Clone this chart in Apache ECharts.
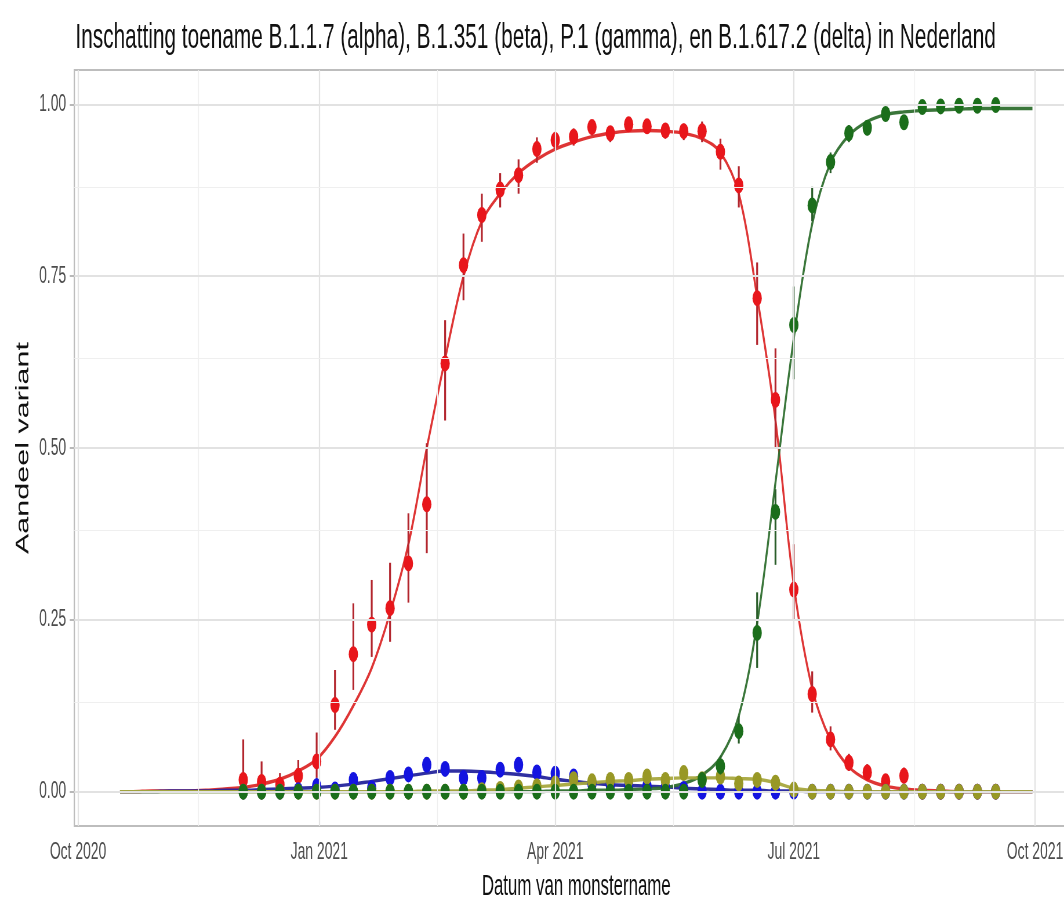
<!DOCTYPE html>
<html>
<head>
<meta charset="utf-8">
<script src="https://cdn.jsdelivr.net/npm/echarts@6/dist/echarts.min.js"></script>
<style>
html,body{margin:0;padding:0;background:#fff;overflow:hidden;}
#wrap{width:1064px;height:906px;overflow:hidden;position:relative;background:#fff;}
#chart{width:1862px;height:906px;transform:scaleX(0.57984);transform-origin:0 0;}
</style>
</head>
<body>
<div id="wrap"><div id="chart"></div></div>
<script>
// ---- data ----
const titleText = 'Inschatting toename B.1.1.7 (alpha), B.1.351 (beta), P.1 (gamma), en B.1.617.2 (delta) in Nederland';
const xTitle = 'Datum van monstername';
const yTitle = 'Aandeel variant';

const xTickDates = ['2020-10-01','2021-01-01','2021-04-01','2021-07-01','2021-10-01'];
const xTickLabels = ['Oct 2020','Jan 2021','Apr 2021','Jul 2021','Oct 2021'];
const xMinorDates = ['2020-11-16','2021-02-15','2021-05-16','2021-08-16'];
const yTicks = [0, 0.25, 0.5, 0.75, 1];
const yMinor = [0.125, 0.375, 0.625, 0.875];

const pointDates = ['2020-12-03','2020-12-10','2020-12-17','2020-12-24','2020-12-31',
 '2021-01-07','2021-01-14','2021-01-21','2021-01-28','2021-02-04','2021-02-11','2021-02-18','2021-02-25',
 '2021-03-04','2021-03-11','2021-03-18','2021-03-25','2021-04-01','2021-04-08','2021-04-15','2021-04-22','2021-04-29',
 '2021-05-06','2021-05-13','2021-05-20','2021-05-27','2021-06-03','2021-06-10','2021-06-17','2021-06-24',
 '2021-07-01','2021-07-08','2021-07-15','2021-07-22','2021-07-29','2021-08-05','2021-08-12','2021-08-19','2021-08-26',
 '2021-09-02','2021-09-09','2021-09-16'];
const fitLeadDates = ['2020-10-17','2020-10-22','2020-10-29','2020-11-05','2020-11-12','2020-11-19','2020-11-26'];
const fitTailDates = ['2021-09-23','2021-09-30'];

// observed proportions
const alphaPts = [0.017,0.014,0.010,0.023,0.044,0.126,0.200,0.243,0.267,0.332,0.418,0.623,0.766,0.839,0.876,0.897,0.935,0.948,0.953,0.967,0.958,0.971,0.968,0.962,0.961,0.961,0.931,0.882,0.718,0.570,0.294,0.142,0.076,0.042,0.028,0.015,0.023,0,0,0,0,0];
const alphaLo  = [0,0,0,0.005,0.02,0.09,0.148,0.196,0.218,0.275,0.347,0.54,0.715,0.80,0.85,0.87,0.915,0.935,0.94,0.955,0.945,0.96,0.958,0.95,0.948,0.945,0.905,0.85,0.65,0.50,0.25,0.115,0.06,0.03,0.018,0.008,0.012,0,0,0,0,0];
const alphaHi  = [0.076,0.044,0.027,0.046,0.086,0.177,0.274,0.308,0.333,0.405,0.507,0.686,0.812,0.87,0.90,0.92,0.952,0.96,0.965,0.977,0.968,0.98,0.977,0.972,0.972,0.975,0.95,0.91,0.77,0.645,0.36,0.175,0.095,0.055,0.04,0.025,0.035,0,0,0,0,0];

const betaPts = [0,0,0,0.002,0.008,0.003,0.017,0.005,0.020,0.025,0.039,0.033,0.020,0.020,0.032,0.039,0.028,0.026,0.022,0.012,0.010,0.009,0.008,0.006,0.004,0,0,0,0,0,0,0,0,0,0,0,0,0,0,0,0,0];
const betaLo  = [0,0,0,0,0.002,0,0.010,0,0.013,0.018,0.030,0.025,0.014,0.014,0.025,0.031,0.021,0.019,0.015,0.007,0.005,0.004,0.003,0.002,0.001,0,0,0,0,0,0,0,0,0,0,0,0,0,0,0,0,0];
const betaHi  = [0.005,0.005,0.006,0.008,0.020,0.010,0.027,0.012,0.028,0.033,0.048,0.041,0.027,0.027,0.040,0.047,0.035,0.033,0.029,0.018,0.015,0.014,0.013,0.011,0.008,0,0,0,0,0,0,0,0,0,0,0,0,0,0,0,0,0];

const gammaPts = [0,0,0,0,0,0,0,0,0,0,0,0,0,0.002,0.004,0.006,0.008,0.012,0.018,0.015,0.017,0.017,0.022,0.017,0.027,0.018,0.022,0.012,0.017,0.013,0.003,0,0,0,0,0,0,0,0,0,0,0];
const gammaLo  = [0,0,0,0,0,0,0,0,0,0,0,0,0,0,0,0.001,0.003,0.006,0.012,0.010,0.012,0.012,0.016,0.012,0.020,0.012,0.016,0.007,0.011,0.008,0,0,0,0,0,0,0,0,0,0,0,0];
const gammaHi  = [0,0,0,0,0,0,0,0,0,0,0,0,0,0.005,0.008,0.011,0.013,0.018,0.024,0.021,0.023,0.023,0.028,0.023,0.034,0.025,0.029,0.018,0.024,0.019,0.006,0,0,0,0,0,0,0,0,0,0,0];

const deltaPts = [0,0,0,0,0,0,0,0,0,0,0,0,0,0,0,0,0,0,0,0,0,0,0,0,0,0.017,0.037,0.088,0.231,0.407,0.679,0.853,0.916,0.958,0.966,0.986,0.974,0.996,0.997,0.998,0.998,0.999];
const deltaLo  = [0,0,0,0,0,0,0,0,0,0,0,0,0,0,0,0,0,0,0,0,0,0,0,0,0,0.008,0.025,0.07,0.18,0.33,0.60,0.83,0.90,0.945,0.955,0.978,0.963,0.99,0.992,0.994,0.994,0.995];
const deltaHi  = [0,0,0,0,0,0,0,0,0,0,0,0,0,0,0,0,0,0,0,0,0,0,0,0,0,0.028,0.052,0.11,0.29,0.44,0.735,0.88,0.93,0.97,0.975,0.992,0.983,1.0,1.0,1.0,1.0,1.0];

// fitted curves (values at fitLeadDates + pointDates + fitTailDates)
const alphaFit = [0,0,0.001,0.001,0.001,0.002,0.004,
 0.006,0.011,0.018,0.03,0.047,0.08,0.125,0.18,0.26,0.36,0.5,0.63,0.75,0.83,0.87,0.9,0.92,0.935,0.945,0.953,0.958,0.961,0.962,0.961,0.958,0.95,0.93,0.87,0.72,0.54,0.3,0.15,0.075,0.036,0.017,0.008,0.004,0.002,0.001,0,0,0,
 0,0];
const betaFit = [0,0,0,0.001,0.001,0.001,0.002,
 0.002,0.003,0.004,0.005,0.006,0.008,0.011,0.015,0.019,0.023,0.027,0.03,0.03,0.029,0.027,0.025,0.022,0.018,0.015,0.012,0.01,0.009,0.008,0.007,0.005,0.004,0.003,0.002,0.002,0.001,0.001,0,0,0,0,0,0,0,0,0,0,0,
 0,0];
const gammaFit = [0,0,0,0,0,0,0,
 0,0,0,0,0,0,0,0,0,0,0.001,0.001,0.001,0.002,0.003,0.005,0.007,0.009,0.011,0.013,0.015,0.016,0.018,0.019,0.02,0.02,0.02,0.019,0.018,0.013,0.005,0.002,0.001,0,0,0,0,0,0,0,0,0,
 0,0];
const deltaFit = [0,0,0,0,0,0,0,
 0,0,0,0,0,0,0,0,0,0,0,0,0,0,0,0,0,0.001,0.001,0.002,0.002,0.003,0.004,0.006,0.012,0.024,0.05,0.11,0.245,0.45,0.66,0.826,0.915,0.955,0.975,0.985,0.989,0.991,0.992,0.993,0.994,0.994,
 0.994,0.994];

// ---- build ----
const ts = d => new Date(d + 'T00:00:00Z').getTime();
const fitDates = fitLeadDates.concat(pointDates, fitTailDates);
const FONT = "'Liberation Sans', Arial, Helvetica, sans-serif";
const xMin = Date.UTC(2020, 8, 29, 14);
const xMax = Date.UTC(2021, 9, 17, 10);
const majorTs = xTickDates.map(ts);
const labelMap = {};
majorTs.forEach((t, i) => labelMap[t] = xTickLabels[i]);

const variants = [
  {name:'alpha', pts:alphaPts, lo:alphaLo, hi:alphaHi, fit:alphaFit, point:'#e8161b', line:'#dc2a2a', bar:'#b3262e'},
  {name:'beta',  pts:betaPts,  lo:betaLo,  hi:betaHi,  fit:betaFit,  point:'#1414e0', line:'#24249c', bar:'#2525a8'},
  {name:'gamma', pts:gammaPts, lo:gammaLo, hi:gammaHi, fit:gammaFit, point:'#989826', line:'#a8a83e', bar:'#80801f'},
  {name:'delta', pts:deltaPts, lo:deltaLo, hi:deltaHi, fit:deltaFit, point:'#1b6e1b', line:'#2f6f2f', bar:'#2a5e2a'}
];

const gridLines = [];
majorTs.forEach(t => gridLines.push({xAxis:t, lineStyle:{color:'#e2e2e2', width:2.2, type:'solid'}}));
xMinorDates.map(ts).forEach(t => gridLines.push({xAxis:t, lineStyle:{color:'#efefef', width:1.2, type:'solid'}}));
yTicks.forEach(v => gridLines.push({yAxis:v, lineStyle:{color:'#e2e2e2', width:2.2, type:'solid'}}));
yMinor.forEach(v => gridLines.push({yAxis:v, lineStyle:{color:'#efefef', width:1.2, type:'solid'}}));

const series = [{
  type:'line', name:'grid', data:[[xMin, -1]], showSymbol:false, silent:true, z:1,
  lineStyle:{opacity:0},
  markLine:{silent:true, symbol:['none','none'], label:{show:false}, animation:false, data:gridLines}
}];

// fitted lines (drawn under the points)
[variants[0], variants[1], variants[3], variants[2]].forEach(v => {
  series.push({
    type:'line', name:v.name + ' fit', z:2, showSymbol:false, smooth:0.35, silent:true,
    data: fitDates.map((d, i) => [ts(d), v.fit[i]]),
    lineStyle:{color:v.line, width:3.4, opacity:0.95}
  });
});

// error bars + points: alpha, beta, gamma, delta
const order = [variants[0], variants[1], variants[2], variants[3]];
order.forEach((v, k) => {
  series.push({
    type:'custom', name:v.name + ' ci', z:3 + k*0.1, silent:true,
    data: pointDates.map((d, i) => [ts(d), v.lo[i], v.hi[i]]).filter(r => r[2] - r[1] > 0),
    encode:{x:0, y:[1,2]},
    renderItem:(params, api) => {
      const x = api.value(0);
      const p1 = api.coord([x, api.value(1)]);
      const p2 = api.coord([x, api.value(2)]);
      return {type:'line', shape:{x1:p1[0], y1:p1[1], x2:p2[0], y2:p2[1]},
              style:{stroke:v.bar, lineWidth:3.2}};
    }
  });
  series.push({
    type:'scatter', name:v.name, z:3.05 + k*0.1, symbol:'circle', symbolSize:16, silent:true,
    data: pointDates.map((d, i) => [ts(d), v.pts[i]]),
    itemStyle:{color:v.point, opacity:1}
  });
});

const chart = echarts.init(document.getElementById('chart'), null, {renderer:'canvas'});
chart.setOption({
  animation:false,
  backgroundColor:'#ffffff',
  title:{text:titleText, left:125, top:15, textStyle:{fontFamily:FONT, fontSize:35.9, fontWeight:'normal', color:'#111'}},
  grid:{left:128.2, right:2.7, top:70, bottom:80, show:true, borderColor:'#bdbdbd', borderWidth:2.2, backgroundColor:'transparent', containLabel:false},
  xAxis:{
    type:'value', min:xMin, max:xMax, scale:true,
    name:xTitle, nameLocation:'middle', nameGap:46,
    nameTextStyle:{fontFamily:FONT, fontSize:29, color:'#111'},
    axisLine:{show:false},
    axisTick:{show:true, customValues:majorTs, length:8, lineStyle:{color:'#b8b8b8', width:2}},
    axisLabel:{customValues:majorTs, margin:14, fontFamily:FONT, fontSize:24, color:'#4d4d4d',
               formatter:(val) => labelMap[val] || ''},
    splitLine:{show:false}, minorSplitLine:{show:false}
  },
  yAxis:{
    type:'value', min:-0.05, max:1.05,
    name:yTitle, nameLocation:'middle', nameGap:66, nameRotate:90,
    nameTextStyle:{fontFamily:FONT, fontSize:30.5, color:'#111'},
    axisLine:{show:false},
    axisTick:{show:true, customValues:yTicks, length:8, lineStyle:{color:'#b8b8b8', width:2}},
    axisLabel:{customValues:yTicks, margin:14, fontFamily:FONT, fontSize:24, color:'#4d4d4d',
               formatter:(val) => Number(val).toFixed(2)},
    splitLine:{show:false}
  },
  series:series
});
</script>
</body>
</html>
